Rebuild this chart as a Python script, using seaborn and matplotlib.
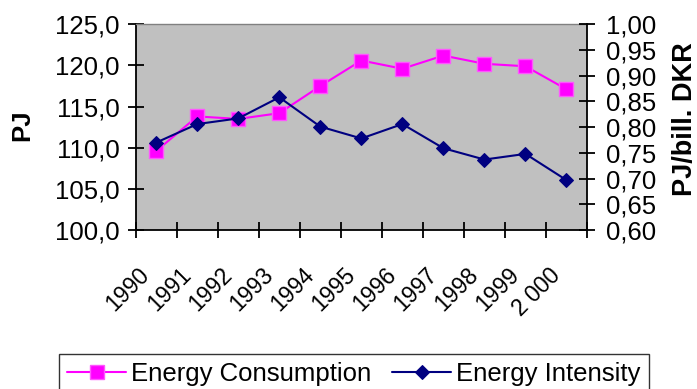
import numpy as np
import pandas as pd
import matplotlib
matplotlib.use("Agg")
import matplotlib.pyplot as plt
import matplotlib.transforms as mtransforms
from matplotlib.ticker import FuncFormatter, FixedLocator
import seaborn as sns

years = ['1990', '1991', '1992', '1993', '1994', '1995', '1996', '1997', '1998', '1999', '2 000']
consumption = [109.6, 113.8, 113.5, 114.2, 117.5, 120.6, 119.6, 121.2, 120.2, 119.9, 117.1]
intensity = [0.770, 0.806, 0.817, 0.858, 0.801, 0.778, 0.806, 0.759, 0.737, 0.748, 0.697]
left_ticks = [100, 105, 110, 115, 120, 125]
right_ticks = [0.60, 0.65, 0.70, 0.75, 0.80, 0.85, 0.90, 0.95, 1.00]

sns.set_theme(style='white')
plt.rcParams['font.family'] = ['Liberation Sans', 'DejaVu Sans']
plt.rcParams['text.color'] = 'black'
plt.rcParams['xtick.color'] = 'black'
plt.rcParams['ytick.color'] = 'black'
plt.rcParams['xtick.labelcolor'] = 'black'
plt.rcParams['ytick.labelcolor'] = 'black'
plt.rcParams['axes.labelcolor'] = 'black'

df = pd.DataFrame({'pos': np.arange(len(years)), 'year': years,
                   'Energy Consumption': consumption, 'Energy Intensity': intensity})

W, H = 697, 389
fig = plt.figure(figsize=(W / 100, H / 100), dpi=100)
ax = fig.add_axes([135.7 / W, 1 - 230 / H, (587 - 135.7) / W, (230 - 24.3) / H])
ax.set_facecolor('#C0C0C0')
ax2 = ax.twinx()

sns.lineplot(data=df, x='pos', y='Energy Consumption', ax=ax, color='#FF00FF',
             marker='s', markersize=9.5, markerfacecolor='#FF00FF', markeredgecolor='#FF55FF',
             markeredgewidth=1.0, linewidth=1.5, label='Energy Consumption', legend=False)
sns.lineplot(data=df, x='pos', y='Energy Intensity', ax=ax2, color='#000080',
             marker='D', markersize=7, markerfacecolor='#000080', markeredgecolor='#000080',
             linewidth=1.5, label='Energy Intensity', legend=False)

n = len(years)
ax.set_xlim(-0.5, n - 0.5)
ax.set_ylim(100, 125)
ax2.set_ylim(0.60, 1.00)
ax.set_yticks(left_ticks)
ax2.set_yticks(right_ticks)
ax.yaxis.set_major_formatter(FuncFormatter(lambda v, p: f"{v:.1f}".replace('.', ',')))
ax2.yaxis.set_major_formatter(FuncFormatter(lambda v, p: f"{v:.2f}".replace('.', ',')))

ax.set_xticks(np.arange(n))
ax.set_xticklabels(years)
ax.xaxis.set_minor_locator(FixedLocator(np.arange(n + 1) - 0.5))
ax.tick_params(axis='x', which='major', length=0, pad=30, labelsize=16.5, labelcolor='black')
ax.tick_params(axis='x', which='minor', direction='inout', length=11, width=1.3, color='black', bottom=True)
ax.tick_params(axis='y', direction='inout', length=11, width=1.3, color='black', pad=6, labelsize=18.5,
               left=True, labelcolor='black')
ax2.tick_params(axis='y', direction='inout', length=11, width=1.3, color='black', pad=8, labelsize=18.5,
                right=True, labelcolor='black')

offset = mtransforms.ScaledTranslation(-10 / 100, 0, fig.dpi_scale_trans)
for lab in ax.get_xticklabels():
    lab.set_rotation(45)
    lab.set_rotation_mode('anchor')
    lab.set_ha('right')
    lab.set_va('center')
    lab.set_transform(lab.get_transform() + offset)

ax.set_xlabel('')
ax.set_ylabel('')
ax2.set_ylabel('')

for a in (ax, ax2):
    for s in a.spines.values():
        s.set_visible(False)
ax.spines['left'].set_visible(True)
ax.spines['left'].set_color('black')
ax.spines['left'].set_linewidth(1.3)
ax.spines['bottom'].set_visible(True)
ax.spines['bottom'].set_color('black')
ax.spines['bottom'].set_linewidth(1.3)
ax.spines['top'].set_visible(True)
ax.spines['top'].set_color('#808080')
ax.spines['top'].set_linewidth(1.0)
ax2.spines['right'].set_visible(True)
ax2.spines['right'].set_color('black')
ax2.spines['right'].set_linewidth(1.3)

fig.text(22 / W, 1 - 125 / H, 'PJ', rotation=90, ha='center', va='center',
         fontsize=18.5, fontweight='bold', color='black')
fig.text(685 / W, 1 - 119 / H, 'PJ/bill. DKR', rotation=90, ha='center', va='center',
         fontsize=19.5, fontweight='bold', color='black')

handles = [ax.lines[0], ax2.lines[0]]
leg = fig.legend(handles, ['Energy Consumption', 'Energy Intensity'], loc='upper center',
                 bbox_to_anchor=(354 / W, 1 - 354 / H), ncol=2, frameon=True, fancybox=False,
                 fontsize=18.5, handlelength=2.3, handletextpad=0.2, columnspacing=0.8,
                 borderpad=0.3, borderaxespad=0)
leg.get_frame().set_edgecolor('black')
leg.get_frame().set_linewidth(1.0)
for t in leg.get_texts():
    t.set_color('black')

fig.savefig('out.png', dpi=100)
